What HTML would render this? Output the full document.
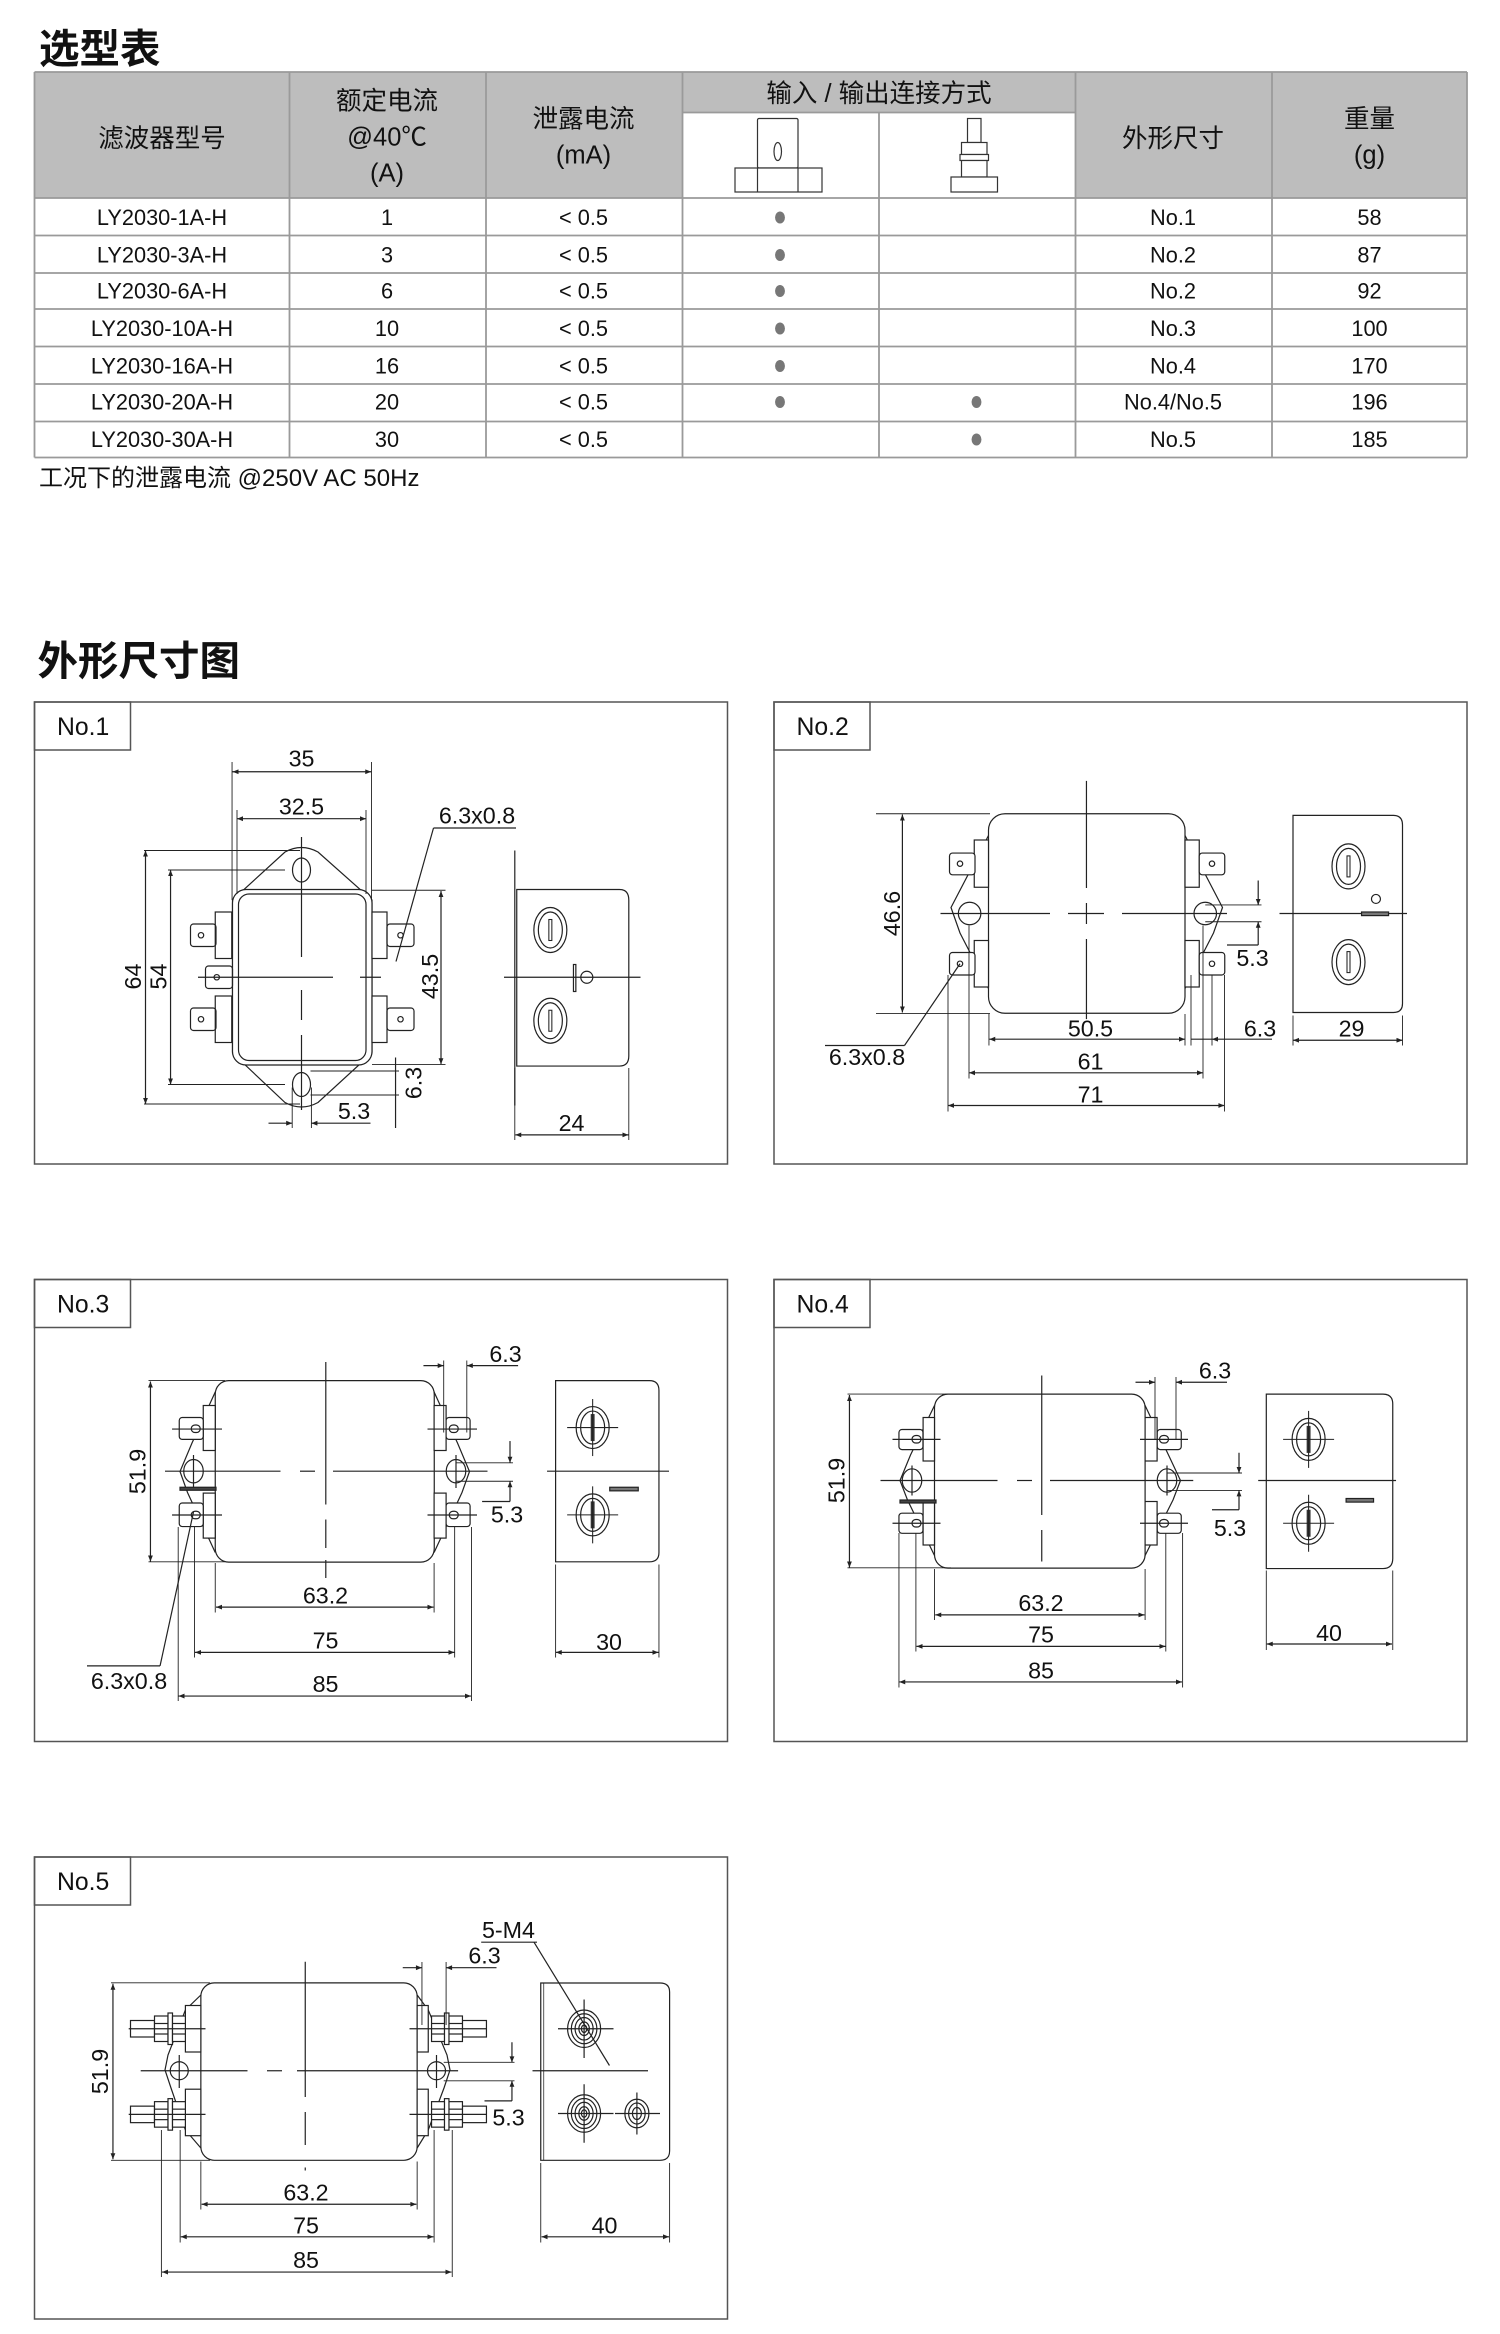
<!DOCTYPE html>
<html><head><meta charset="utf-8"><style>
html,body{margin:0;padding:0;background:#fff}
svg{display:block}
text{font-family:"Liberation Sans","Noto Sans CJK SC",sans-serif;fill:#111}
</style></head><body>
<svg width="1500" height="2334" viewBox="0 0 1000 1556" xmlns="http://www.w3.org/2000/svg">
<defs>
<marker id="a" viewBox="0 0 10 10" refX="10" refY="5" markerWidth="7" markerHeight="4" orient="auto-start-reverse" markerUnits="userSpaceOnUse"><path d="M0,1 L10,5 L0,9 z" fill="#222"/></marker>
<g id="rec1"><ellipse cx="0" cy="0" rx="11" ry="15" fill="none" stroke="#222" stroke-width="0.8"/><ellipse cx="0" cy="0" rx="8" ry="12" fill="none" stroke="#222" stroke-width="0.8"/><rect x="-1" y="-7" width="2" height="14" fill="none" stroke="#222" stroke-width="0.7"/></g>
<g id="rec3"><ellipse cx="0" cy="0" rx="11" ry="14" fill="none" stroke="#222" stroke-width="0.8"/><ellipse cx="0" cy="0" rx="8" ry="11" fill="none" stroke="#222" stroke-width="0.8"/><rect x="-1.3" y="-9" width="2.6" height="18" fill="#333"/><line x1="-17" y1="0" x2="17" y2="0" stroke="#222" stroke-width="0.7"/><line x1="0" y1="-19" x2="0" y2="19" stroke="#222" stroke-width="0.7"/></g>
</defs>

<text x="26" y="42" font-size="27" font-weight="bold">选型表</text>

<rect x="23" y="48" width="955" height="84" fill="#bdbdbd"/>
<rect x="455" y="75" width="262" height="57" fill="#fff"/>
<g stroke="#9a9a9a" stroke-width="1.2">
<line x1="23" y1="48" x2="978" y2="48"/>
<line x1="455" y1="75" x2="717" y2="75"/>
<line x1="23" y1="132" x2="978" y2="132"/><line x1="23" y1="157" x2="978" y2="157"/><line x1="23" y1="182" x2="978" y2="182"/><line x1="23" y1="206" x2="978" y2="206"/><line x1="23" y1="231" x2="978" y2="231"/><line x1="23" y1="256" x2="978" y2="256"/><line x1="23" y1="281" x2="978" y2="281"/><line x1="23" y1="305" x2="978" y2="305"/>
<line x1="23" y1="48" x2="23" y2="305"/><line x1="193" y1="48" x2="193" y2="305"/><line x1="324" y1="48" x2="324" y2="305"/><line x1="455" y1="48" x2="455" y2="305"/><line x1="586" y1="75" x2="586" y2="305"/><line x1="717" y1="48" x2="717" y2="305"/><line x1="848" y1="48" x2="848" y2="305"/><line x1="978" y1="48" x2="978" y2="305"/>
</g>
<g font-size="17" text-anchor="middle">
<text x="108" y="98">滤波器型号</text>
<text x="258" y="73">额定电流</text><text x="258" y="97">@40℃</text><text x="258" y="121">(A)</text>
<text x="389" y="85">泄露电流</text><text x="389" y="109">(mA)</text>
<text x="586" y="68">输入 / 输出连接方式</text>
<text x="782" y="98">外形尺寸</text>
<text x="913" y="85">重量</text><text x="913" y="109">(g)</text>
</g>
<g fill="#fff" stroke="#333" stroke-width="0.8">
<rect x="505" y="79" width="27" height="33" rx="1"/><ellipse cx="518.5" cy="101" rx="2.5" ry="6"/>
<rect x="490" y="112" width="58" height="16"/><line x1="505" y1="112" x2="505" y2="128"/><line x1="532" y1="112" x2="532" y2="128"/>
<rect x="645" y="79" width="9" height="16"/><rect x="641" y="95" width="17" height="8"/><rect x="640" y="103" width="19" height="4"/><rect x="641" y="107" width="17" height="11"/><rect x="634" y="118" width="31" height="10"/>
</g>
<g font-size="14.5" text-anchor="middle">
<text x="108" y="150">LY2030-1A-H</text><text x="258" y="150">1</text><text x="389" y="150">&lt; 0.5</text><text x="782" y="150">No.1</text><text x="913" y="150">58</text>
<text x="108" y="175">LY2030-3A-H</text><text x="258" y="175">3</text><text x="389" y="175">&lt; 0.5</text><text x="782" y="175">No.2</text><text x="913" y="175">87</text>
<text x="108" y="199">LY2030-6A-H</text><text x="258" y="199">6</text><text x="389" y="199">&lt; 0.5</text><text x="782" y="199">No.2</text><text x="913" y="199">92</text>
<text x="108" y="224">LY2030-10A-H</text><text x="258" y="224">10</text><text x="389" y="224">&lt; 0.5</text><text x="782" y="224">No.3</text><text x="913" y="224">100</text>
<text x="108" y="249">LY2030-16A-H</text><text x="258" y="249">16</text><text x="389" y="249">&lt; 0.5</text><text x="782" y="249">No.4</text><text x="913" y="249">170</text>
<text x="108" y="273">LY2030-20A-H</text><text x="258" y="273">20</text><text x="389" y="273">&lt; 0.5</text><text x="782" y="273">No.4/No.5</text><text x="913" y="273">196</text>
<text x="108" y="298">LY2030-30A-H</text><text x="258" y="298">30</text><text x="389" y="298">&lt; 0.5</text><text x="782" y="298">No.5</text><text x="913" y="298">185</text>
</g>
<g fill="#777">
<ellipse cx="520" cy="145" rx="3.3" ry="4"/><ellipse cx="520" cy="170" rx="3.3" ry="4"/><ellipse cx="520" cy="194" rx="3.3" ry="4"/><ellipse cx="520" cy="219" rx="3.3" ry="4"/><ellipse cx="520" cy="244" rx="3.3" ry="4"/><ellipse cx="520" cy="268" rx="3.3" ry="4"/><ellipse cx="651" cy="268" rx="3.3" ry="4"/><ellipse cx="651" cy="293" rx="3.3" ry="4"/>
</g>
<text x="26" y="324" font-size="16">工况下的泄露电流 @250V AC 50Hz</text>

<text x="25" y="450" font-size="27" font-weight="bold">外形尺寸图</text>

<g fill="none" stroke="#555" stroke-width="1">
<rect x="23" y="468" width="462" height="308"/><rect x="23" y="468" width="64" height="32"/>
<rect x="516" y="468" width="462" height="308"/><rect x="516" y="468" width="64" height="32"/>
<rect x="23" y="853" width="462" height="308"/><rect x="23" y="853" width="64" height="32"/>
<rect x="516" y="853" width="462" height="308"/><rect x="516" y="853" width="64" height="32"/>
<rect x="23" y="1238" width="462" height="308"/><rect x="23" y="1238" width="64" height="32"/>
</g>
<g font-size="16.5">
<text x="38" y="490">No.1</text><text x="531" y="490">No.2</text><text x="38" y="875">No.3</text><text x="531" y="875">No.4</text><text x="38" y="1260">No.5</text>
</g>

<!-- No.1 -->
<g stroke="#222" stroke-width="0.8" fill="none">
<path d="M190,568 Q201,562 212,568 L248,600 L248,702 L212,735 Q201,741 190,735 L155,702 L155,600 Z"/>
<rect x="155" y="593" width="93" height="117" rx="9" fill="#fff"/>
<rect x="159" y="596" width="85" height="111" rx="7"/>
<ellipse cx="201" cy="580" rx="6" ry="8"/><ellipse cx="201" cy="723" rx="6" ry="8"/>
<rect x="143.5" y="608" width="11" height="31" fill="#fff"/><rect x="127" y="616" width="17" height="15" rx="2"/><circle cx="134" cy="623.5" r="1.8"/>
<rect x="143.5" y="664" width="11" height="31" fill="#fff"/><rect x="127" y="672" width="17" height="15" rx="2"/><circle cx="134" cy="679.5" r="1.8"/>
<rect x="137" y="644" width="18" height="15" rx="2"/><circle cx="144.5" cy="651.5" r="1.8"/>
<rect x="248" y="608" width="10" height="31" fill="#fff"/><rect x="258" y="616" width="18" height="15" rx="2"/><circle cx="267" cy="623.5" r="1.8"/>
<rect x="248" y="664" width="10" height="31" fill="#fff"/><rect x="258" y="672" width="18" height="15" rx="2"/><circle cx="267" cy="679.5" r="1.8"/>
<line x1="201" y1="558" x2="201" y2="638"/><line x1="201" y1="660" x2="201" y2="680"/><line x1="201" y1="690" x2="201" y2="740"/>
<line x1="132" y1="651.5" x2="222" y2="651.5"/><line x1="240" y1="651.5" x2="254" y2="651.5"/>
<line x1="154.7" y1="508" x2="154.7" y2="600" stroke-width="0.6"/><line x1="247.7" y1="508" x2="247.7" y2="600" stroke-width="0.6"/>
<line x1="155" y1="514.5" x2="247.5" y2="514.5" marker-start="url(#a)" marker-end="url(#a)"/>
<line x1="158" y1="540" x2="158" y2="596" stroke-width="0.6"/><line x1="244" y1="540" x2="244" y2="596" stroke-width="0.6"/>
<line x1="158" y1="545.8" x2="244" y2="545.8" marker-start="url(#a)" marker-end="url(#a)"/>
<line x1="289" y1="552" x2="344" y2="552"/><line x1="289" y1="552" x2="264" y2="641"/>
<line x1="248" y1="593.5" x2="297" y2="593.5" stroke-width="0.6"/><line x1="248" y1="709.6" x2="297" y2="709.6" stroke-width="0.6"/>
<line x1="294" y1="594" x2="294" y2="709.5" marker-start="url(#a)" marker-end="url(#a)"/>
<line x1="96" y1="567" x2="200" y2="567" stroke-width="0.6"/><line x1="96" y1="736" x2="200" y2="736" stroke-width="0.6"/>
<line x1="97" y1="567" x2="97" y2="736" marker-start="url(#a)" marker-end="url(#a)"/>
<line x1="112" y1="580" x2="190" y2="580" stroke-width="0.6"/><line x1="112" y1="723" x2="190" y2="723" stroke-width="0.6"/>
<line x1="113.7" y1="580" x2="113.7" y2="723" marker-start="url(#a)" marker-end="url(#a)"/>
<line x1="207" y1="714" x2="266" y2="714" stroke-width="0.6"/><line x1="207" y1="730" x2="266" y2="730" stroke-width="0.6"/>
<line x1="263.7" y1="705" x2="263.7" y2="752"/>
<line x1="194.8" y1="725" x2="194.8" y2="752" stroke-width="0.6"/><line x1="207.6" y1="725" x2="207.6" y2="752" stroke-width="0.6"/>
<line x1="179" y1="748.8" x2="194.8" y2="748.8" marker-end="url(#a)"/><line x1="247" y1="748.8" x2="207.6" y2="748.8" marker-end="url(#a)"/>
<line x1="343.2" y1="567" x2="343.2" y2="737"/>
<path d="M344.5,593 L413,593 Q419.2,593 419.2,600 L419.2,704 Q419.2,710.7 413,710.7 L344.5,710.7 Z"/>
<line x1="336" y1="651.5" x2="427" y2="651.5"/>
<circle cx="391.2" cy="651.5" r="4"/><rect x="382.3" y="643" width="1.6" height="18"/>
<line x1="343.2" y1="712" x2="343.2" y2="760" stroke-width="0.6"/><line x1="419.2" y1="712" x2="419.2" y2="760" stroke-width="0.6"/>
<line x1="343.5" y1="756.6" x2="419" y2="756.6" marker-start="url(#a)" marker-end="url(#a)"/>
</g>
<use href="#rec1" x="366.9" y="620"/><use href="#rec1" x="366.9" y="680.5"/>
<g font-size="15.5" text-anchor="middle">
<text x="201" y="511">35</text><text x="201" y="543">32.5</text><text x="318" y="549">6.3x0.8</text>
<text x="236" y="746">5.3</text><text x="381" y="754">24</text>
<text transform="translate(292,651) rotate(-90)">43.5</text>
<text transform="translate(94,651) rotate(-90)">64</text>
<text transform="translate(111,651) rotate(-90)">54</text>
<text transform="translate(281,722) rotate(-90)">6.3</text>
</g>

<!-- No.2 -->
<g stroke="#222" stroke-width="0.8" fill="none">
<path d="M659,557 L634,605 L640,622 L659,659"/><path d="M790,557 L815,605 L809,622 L790,659"/>
<circle cx="646.4" cy="609" r="7.5" fill="#fff"/><circle cx="803.5" cy="609" r="7.5" fill="#fff"/>
<rect x="659" y="542.5" width="131" height="133" rx="11" fill="#fff"/>
<rect x="649.5" y="560" width="9.5" height="31.5" fill="#fff"/><rect x="633" y="568.7" width="17" height="14.5" rx="2" fill="#fff"/><circle cx="640" cy="575.8" r="1.8"/>
<rect x="649.5" y="627" width="9.5" height="31" fill="#fff"/><rect x="633" y="635" width="17" height="15" rx="2" fill="#fff"/><circle cx="640" cy="642.5" r="1.8"/>
<rect x="790" y="560" width="9.5" height="31.5" fill="#fff"/><rect x="799.5" y="568.7" width="17" height="14.5" rx="2" fill="#fff"/><circle cx="808" cy="575.8" r="1.8"/>
<rect x="790" y="627" width="9.5" height="31" fill="#fff"/><rect x="799.5" y="635" width="17" height="15" rx="2" fill="#fff"/><circle cx="808" cy="642.5" r="1.8"/>
<line x1="724.3" y1="520.6" x2="724.3" y2="592"/><line x1="724.3" y1="602" x2="724.3" y2="616"/><line x1="724.3" y1="626" x2="724.3" y2="679.4"/>
<line x1="627" y1="609" x2="700" y2="609"/><line x1="712" y1="609" x2="736" y2="609"/><line x1="748" y1="609" x2="818" y2="609"/>
<line x1="584" y1="542.5" x2="660" y2="542.5" stroke-width="0.6"/><line x1="584" y1="675.6" x2="660" y2="675.6" stroke-width="0.6"/>
<line x1="601.6" y1="543" x2="601.6" y2="675" marker-start="url(#a)" marker-end="url(#a)"/>
<line x1="803.5" y1="603.3" x2="841" y2="603.3" stroke-width="0.6"/><line x1="803.5" y1="614.5" x2="841" y2="614.5" stroke-width="0.6"/>
<line x1="838.8" y1="587" x2="838.8" y2="603.3" marker-end="url(#a)"/><line x1="838.8" y1="630" x2="838.8" y2="614.5" marker-end="url(#a)"/>
<line x1="818" y1="630" x2="838.8" y2="630"/>
<line x1="659.3" y1="676" x2="659.3" y2="697" stroke-width="0.6"/><line x1="790" y1="676" x2="790" y2="697" stroke-width="0.6"/><line x1="794" y1="650" x2="794" y2="697" stroke-width="0.6"/><line x1="808" y1="650" x2="808" y2="697" stroke-width="0.6"/>
<line x1="659.5" y1="692.8" x2="790" y2="692.8" marker-start="url(#a)" marker-end="url(#a)"/>
<line x1="794" y1="692.8" x2="808" y2="692.8"/><line x1="848" y1="692.8" x2="808" y2="692.8" marker-end="url(#a)"/>
<line x1="646" y1="617" x2="646" y2="719" stroke-width="0.6"/><line x1="802" y1="617" x2="802" y2="719" stroke-width="0.6"/>
<line x1="646" y1="715.2" x2="802" y2="715.2" marker-start="url(#a)" marker-end="url(#a)"/>
<line x1="632" y1="650" x2="632" y2="741" stroke-width="0.6"/><line x1="816.3" y1="650" x2="816.3" y2="741" stroke-width="0.6"/>
<line x1="632" y1="737" x2="816.3" y2="737" marker-start="url(#a)" marker-end="url(#a)"/>
<line x1="550" y1="697" x2="603" y2="697"/><line x1="603" y1="697" x2="640" y2="642.5"/>
<path d="M862,543.6 L929,543.6 Q935,543.6 935,550 L935,669 Q935,675 929,675 L862,675 Z"/>
<line x1="853" y1="609" x2="938" y2="609"/>
<circle cx="917.3" cy="599.3" r="3"/><rect x="907.7" y="608" width="18" height="2.4" fill="#777"/>
<line x1="862" y1="677" x2="862" y2="697" stroke-width="0.6"/><line x1="935" y1="677" x2="935" y2="697" stroke-width="0.6"/>
<line x1="862" y1="693.5" x2="935" y2="693.5" marker-start="url(#a)" marker-end="url(#a)"/>
</g>
<use href="#rec1" x="899" y="577.6"/><use href="#rec1" x="899" y="641.4"/>
<g font-size="15.5" text-anchor="middle">
<text x="727" y="691">50.5</text><text x="840" y="691">6.3</text><text x="727" y="713">61</text><text x="727" y="735">71</text>
<text x="578" y="710">6.3x0.8</text><text x="835" y="644">5.3</text><text x="901" y="691">29</text>
<text transform="translate(600,609) rotate(-90)">46.6</text>
</g>

<!-- No.3 -->
<g stroke="#222" stroke-width="0.8" fill="none">
<path d="M143.5,928 L128,962 L120,981 L125,995 L143.5,1035"/><path d="M289.4,928 L305,962 L313,981 L308,995 L289.4,1035"/>
<ellipse cx="129" cy="980.8" rx="6.5" ry="7.8" fill="#fff"/><ellipse cx="304" cy="980.8" rx="6.5" ry="7.8" fill="#fff"/>
<rect x="143.5" y="920.4" width="146" height="121" rx="9" fill="#fff"/>
<rect x="135.5" y="937" width="8" height="30" fill="#fff"/><rect x="119.5" y="945" width="16" height="14.6" rx="2" fill="#fff"/><rect x="127.5" y="950" width="6" height="5" rx="2.5"/>
<rect x="135.5" y="995.4" width="8" height="30" fill="#fff"/><rect x="119.5" y="1002" width="16" height="15.7" rx="2" fill="#fff"/><rect x="127.5" y="1007.5" width="6" height="5" rx="2.5"/>
<rect x="289.4" y="937" width="8" height="30" fill="#fff"/><rect x="297.4" y="945" width="16" height="14.6" rx="2" fill="#fff"/><rect x="299.5" y="950" width="6" height="5" rx="2.5"/>
<rect x="289.4" y="995.4" width="8" height="30" fill="#fff"/><rect x="297.4" y="1002" width="16" height="15.7" rx="2" fill="#fff"/><rect x="299.5" y="1007.5" width="6" height="5" rx="2.5"/>
<line x1="114.7" y1="952.7" x2="148" y2="952.7"/><line x1="114.7" y1="1010" x2="148" y2="1010"/><line x1="285" y1="952.7" x2="318" y2="952.7"/><line x1="285" y1="1010" x2="318" y2="1010"/>
<line x1="129" y1="970" x2="129" y2="992"/><line x1="304" y1="970" x2="304" y2="992"/>
<rect x="120" y="991.5" width="24" height="2" fill="#444"/>
<line x1="110" y1="980.8" x2="187" y2="980.8"/><line x1="200" y1="980.8" x2="210" y2="980.8"/><line x1="222" y1="980.8" x2="325" y2="980.8"/>
<line x1="217.2" y1="908" x2="217.2" y2="1003"/><line x1="217.2" y1="1013" x2="217.2" y2="1032"/><line x1="217.2" y1="1040" x2="217.2" y2="1052"/>
<line x1="99" y1="920.4" x2="150" y2="920.4" stroke-width="0.6"/><line x1="99" y1="1041.2" x2="150" y2="1041.2" stroke-width="0.6"/>
<line x1="100.3" y1="921" x2="100.3" y2="1041" marker-start="url(#a)" marker-end="url(#a)"/>
<line x1="295.8" y1="907" x2="295.8" y2="955" stroke-width="0.6"/><line x1="311.2" y1="907" x2="311.2" y2="955" stroke-width="0.6"/>
<line x1="282.3" y1="910.4" x2="295.8" y2="910.4" marker-end="url(#a)"/><line x1="345.4" y1="910.4" x2="311.2" y2="910.4" marker-end="url(#a)"/>
<line x1="304" y1="975.2" x2="342" y2="975.2" stroke-width="0.6"/><line x1="304" y1="987.5" x2="342" y2="987.5" stroke-width="0.6"/>
<line x1="340" y1="960.7" x2="340" y2="975.2" marker-end="url(#a)"/><line x1="340" y1="1001" x2="340" y2="987.5" marker-end="url(#a)"/><line x1="321.4" y1="1001" x2="340" y2="1001"/>
<line x1="143.5" y1="1042" x2="143.5" y2="1075" stroke-width="0.6"/><line x1="289.4" y1="1042" x2="289.4" y2="1075" stroke-width="0.6"/>
<line x1="144" y1="1071.4" x2="289" y2="1071.4" marker-start="url(#a)" marker-end="url(#a)"/>
<line x1="129.7" y1="1018" x2="129.7" y2="1105" stroke-width="0.6"/><line x1="303.1" y1="1018" x2="303.1" y2="1105" stroke-width="0.6"/>
<line x1="130" y1="1101.6" x2="303" y2="1101.6" marker-start="url(#a)" marker-end="url(#a)"/>
<line x1="118.8" y1="1018" x2="118.8" y2="1134" stroke-width="0.6"/><line x1="314.3" y1="1018" x2="314.3" y2="1134" stroke-width="0.6"/>
<line x1="119" y1="1130.7" x2="314" y2="1130.7" marker-start="url(#a)" marker-end="url(#a)"/>
<line x1="58" y1="1110.6" x2="106.7" y2="1110.6"/><line x1="106.7" y1="1110.6" x2="129" y2="1008"/>
<path d="M370.4,920.4 L433,920.4 Q439.3,920.4 439.3,927 L439.3,1035 Q439.3,1041.2 433,1041.2 L370.4,1041.2 Z"/>
<line x1="364.7" y1="980.8" x2="446" y2="980.8"/>
<rect x="406.5" y="991.5" width="19" height="2.4" fill="#777"/>
<line x1="370.4" y1="1043" x2="370.4" y2="1105" stroke-width="0.6"/><line x1="439.3" y1="1043" x2="439.3" y2="1105" stroke-width="0.6"/>
<line x1="370.5" y1="1101.6" x2="439" y2="1101.6" marker-start="url(#a)" marker-end="url(#a)"/>
</g>
<use href="#rec3" x="395.1" y="951.7"/><use href="#rec3" x="395.1" y="1009.9"/>
<g font-size="15.5" text-anchor="middle">
<text x="337" y="908">6.3</text><text x="338" y="1015">5.3</text><text x="217" y="1069">63.2</text><text x="217" y="1099">75</text><text x="217" y="1128">85</text>
<text x="86" y="1126">6.3x0.8</text><text x="406" y="1100">30</text>
<text transform="translate(97,981) rotate(-90)">51.9</text>
</g>

<!-- No.4 -->
<g stroke="#222" stroke-width="0.8" fill="none">
<path d="M623,937 L607,970 L600,987 L605,1000 L623,1037"/><path d="M763.4,937 L779,970 L787,987 L782,1000 L763.4,1037"/>
<ellipse cx="608" cy="987" rx="6.5" ry="7.8" fill="#fff"/><ellipse cx="778" cy="987" rx="6.5" ry="7.8" fill="#fff"/>
<rect x="623" y="929.4" width="140.4" height="116" rx="9" fill="#fff"/>
<rect x="615.4" y="945" width="7.6" height="29" fill="#fff"/><rect x="599.3" y="953" width="16" height="13.4" rx="2" fill="#fff"/><rect x="608" y="957" width="6" height="5" rx="2.5"/>
<rect x="615.4" y="1001" width="7.6" height="29" fill="#fff"/><rect x="599.3" y="1008.8" width="16" height="13.4" rx="2" fill="#fff"/><rect x="608" y="1013" width="6" height="5" rx="2.5"/>
<rect x="763.4" y="945" width="8" height="29" fill="#fff"/><rect x="771.5" y="953" width="16" height="13.4" rx="2" fill="#fff"/><rect x="773" y="957" width="6" height="5" rx="2.5"/>
<rect x="763.4" y="1001" width="8" height="29" fill="#fff"/><rect x="771.5" y="1008.8" width="16" height="13.4" rx="2" fill="#fff"/><rect x="773" y="1013" width="6" height="5" rx="2.5"/>
<line x1="595" y1="959.6" x2="627" y2="959.6"/><line x1="595" y1="1015.5" x2="627" y2="1015.5"/><line x1="760" y1="959.6" x2="792" y2="959.6"/><line x1="760" y1="1015.5" x2="792" y2="1015.5"/>
<line x1="608" y1="977" x2="608" y2="997"/><line x1="778" y1="977" x2="778" y2="997"/>
<rect x="600" y="1000" width="24" height="2" fill="#444"/>
<line x1="587" y1="987" x2="665" y2="987"/><line x1="678" y1="987" x2="688" y2="987"/><line x1="700" y1="987" x2="795.5" y2="987"/>
<line x1="694.5" y1="917" x2="694.5" y2="1010"/><line x1="694.5" y1="1020" x2="694.5" y2="1041"/>
<line x1="565" y1="929.4" x2="634" y2="929.4" stroke-width="0.6"/><line x1="565" y1="1045.2" x2="634" y2="1045.2" stroke-width="0.6"/>
<line x1="566.3" y1="930" x2="566.3" y2="1045" marker-start="url(#a)" marker-end="url(#a)"/>
<line x1="770" y1="918" x2="770" y2="960" stroke-width="0.6"/><line x1="784" y1="918" x2="784" y2="960" stroke-width="0.6"/>
<line x1="757" y1="921.5" x2="770" y2="921.5" marker-end="url(#a)"/><line x1="818" y1="921.5" x2="784" y2="921.5" marker-end="url(#a)"/>
<line x1="778" y1="982" x2="828" y2="982" stroke-width="0.6"/><line x1="778" y1="993.6" x2="828" y2="993.6" stroke-width="0.6"/>
<line x1="826" y1="968.5" x2="826" y2="982" marker-end="url(#a)"/><line x1="826" y1="1006.5" x2="826" y2="993.6" marker-end="url(#a)"/><line x1="808" y1="1006.5" x2="826" y2="1006.5"/>
<line x1="623" y1="1046" x2="623" y2="1080" stroke-width="0.6"/><line x1="763.4" y1="1046" x2="763.4" y2="1080" stroke-width="0.6"/>
<line x1="623.5" y1="1076.6" x2="763" y2="1076.6" marker-start="url(#a)" marker-end="url(#a)"/>
<line x1="610.6" y1="1022" x2="610.6" y2="1101" stroke-width="0.6"/><line x1="777.2" y1="1022" x2="777.2" y2="1101" stroke-width="0.6"/>
<line x1="611" y1="1097.6" x2="777" y2="1097.6" marker-start="url(#a)" marker-end="url(#a)"/>
<line x1="599.3" y1="1022" x2="599.3" y2="1125" stroke-width="0.6"/><line x1="788.4" y1="1022" x2="788.4" y2="1125" stroke-width="0.6"/>
<line x1="599.5" y1="1121.3" x2="788" y2="1121.3" marker-start="url(#a)" marker-end="url(#a)"/>
<path d="M844.2,929.4 L922,929.4 Q928.5,929.4 928.5,936 L928.5,1039 Q928.5,1045.7 922,1045.7 L844.2,1045.7 Z"/>
<line x1="838.8" y1="987" x2="930.7" y2="987"/>
<rect x="897.4" y="999" width="18.3" height="2.4" fill="#777"/>
<line x1="844.2" y1="1047" x2="844.2" y2="1100" stroke-width="0.6"/><line x1="928.5" y1="1047" x2="928.5" y2="1100" stroke-width="0.6"/>
<line x1="844.5" y1="1096" x2="928" y2="1096" marker-start="url(#a)" marker-end="url(#a)"/>
</g>
<use href="#rec3" x="872.4" y="959.6"/><use href="#rec3" x="872.4" y="1015.5"/>
<g font-size="15.5" text-anchor="middle">
<text x="810" y="919">6.3</text><text x="820" y="1024">5.3</text><text x="694" y="1074">63.2</text><text x="694" y="1095">75</text><text x="694" y="1119">85</text><text x="886" y="1094">40</text>
<text transform="translate(563,987) rotate(-90)">51.9</text>
</g>

<!-- No.5 -->
<g stroke="#222" stroke-width="0.8" fill="none">
<path d="M133.9,1330 L123.6,1340 L112,1370 L110,1380 L114,1392 L123.6,1420 L133.9,1432"/><path d="M278.1,1330 L285.5,1340 L298,1370 L300,1380 L296,1392 L285.5,1420 L278.1,1432"/>
<circle cx="119.5" cy="1380.5" r="6" fill="#fff"/><circle cx="291" cy="1380.5" r="6" fill="#fff"/>
<rect x="133.9" y="1321.9" width="144.2" height="118.3" rx="9" fill="#fff"/>
<rect x="123.6" y="1337" width="10.3" height="31" fill="#fff"/><rect x="123.6" y="1392.8" width="10.3" height="31" fill="#fff"/>
<rect x="278.1" y="1337" width="7.4" height="31" fill="#fff"/><rect x="278.1" y="1392.8" width="7.4" height="31" fill="#fff"/>
<g id="studL"><rect x="87" y="1347" width="16" height="11" fill="#fff"/><rect x="103" y="1344" width="9" height="17" fill="#fff"/><line x1="103" y1="1349" x2="112" y2="1349"/><line x1="103" y1="1356" x2="112" y2="1356"/><rect x="112" y="1342" width="3" height="21" fill="#fff"/><rect x="115" y="1344" width="8.6" height="17" fill="#fff"/><line x1="115" y1="1349" x2="123.6" y2="1349"/><line x1="115" y1="1356" x2="123.6" y2="1356"/></g>
<use href="#studL" y="57.1"/>
<use href="#studL" transform="translate(411.3,0) scale(-1,1)"/>
<use href="#studL" transform="translate(411.3,57.1) scale(-1,1)"/>
<line x1="85.8" y1="1352.5" x2="137" y2="1352.5"/><line x1="85.8" y1="1409.6" x2="137" y2="1409.6"/><line x1="273" y1="1352.5" x2="324.6" y2="1352.5"/><line x1="273" y1="1409.6" x2="324.6" y2="1409.6"/>
<line x1="119.5" y1="1370" x2="119.5" y2="1392"/><line x1="291" y1="1370" x2="291" y2="1392"/>
<line x1="93.8" y1="1380.5" x2="165" y2="1380.5"/><line x1="178" y1="1380.5" x2="188" y2="1380.5"/><line x1="198" y1="1380.5" x2="305.4" y2="1380.5"/>
<line x1="203.5" y1="1307.8" x2="203.5" y2="1398"/><line x1="203.5" y1="1408" x2="203.5" y2="1430"/><line x1="203.5" y1="1445" x2="203.5" y2="1447"/>
<line x1="74" y1="1321.9" x2="140" y2="1321.9" stroke-width="0.6"/><line x1="74" y1="1440.2" x2="140" y2="1440.2" stroke-width="0.6"/>
<line x1="75.3" y1="1322.5" x2="75.3" y2="1439.5" marker-start="url(#a)" marker-end="url(#a)"/>
<line x1="281.3" y1="1308" x2="281.3" y2="1350" stroke-width="0.6"/><line x1="297.4" y1="1308" x2="297.4" y2="1350" stroke-width="0.6"/>
<line x1="268.5" y1="1311.8" x2="281.3" y2="1311.8" marker-end="url(#a)"/><line x1="331" y1="1311.8" x2="297.4" y2="1311.8" marker-end="url(#a)"/>
<line x1="320.8" y1="1294.8" x2="358" y2="1294.8"/><line x1="356" y1="1294.8" x2="406.3" y2="1377"/>
<line x1="295.8" y1="1374.9" x2="343" y2="1374.9" stroke-width="0.6"/><line x1="295.8" y1="1387.2" x2="343" y2="1387.2" stroke-width="0.6"/>
<line x1="341.3" y1="1361.5" x2="341.3" y2="1374.9" marker-end="url(#a)"/><line x1="341.3" y1="1400.6" x2="341.3" y2="1387.2" marker-end="url(#a)"/><line x1="323" y1="1400.6" x2="341.3" y2="1400.6"/>
<line x1="133.9" y1="1441" x2="133.9" y2="1473" stroke-width="0.6"/><line x1="278.1" y1="1441" x2="278.1" y2="1473" stroke-width="0.6"/>
<line x1="134.4" y1="1469.5" x2="277.6" y2="1469.5" marker-start="url(#a)" marker-end="url(#a)"/>
<line x1="120.1" y1="1420" x2="120.1" y2="1495" stroke-width="0.6"/><line x1="289.4" y1="1420" x2="289.4" y2="1495" stroke-width="0.6"/>
<line x1="120.5" y1="1491.2" x2="289" y2="1491.2" marker-start="url(#a)" marker-end="url(#a)"/>
<line x1="107.6" y1="1420" x2="107.6" y2="1518" stroke-width="0.6"/><line x1="301.5" y1="1420" x2="301.5" y2="1518" stroke-width="0.6"/>
<line x1="108" y1="1514.7" x2="301" y2="1514.7" marker-start="url(#a)" marker-end="url(#a)"/>
<path d="M360.5,1322 L440,1322 Q446.4,1322 446.4,1328 L446.4,1434 Q446.4,1440.2 440,1440.2 L360.5,1440.2 Z"/>
<line x1="362.5" y1="1322" x2="362.5" y2="1440.2" stroke-width="0.5"/>
<line x1="355" y1="1380.5" x2="432" y2="1380.5"/>
<g id="m4"><ellipse cx="389.4" cy="1352.5" rx="11" ry="12.5"/><ellipse cx="389.4" cy="1352.5" rx="8.5" ry="10"/><ellipse cx="389.4" cy="1352.5" rx="6" ry="7.5"/><ellipse cx="389.4" cy="1352.5" rx="3.5" ry="4.5"/><ellipse cx="389.4" cy="1352.5" rx="1.8" ry="2.5"/><line x1="372" y1="1352.5" x2="409" y2="1352.5"/><line x1="389.4" y1="1333" x2="389.4" y2="1372"/></g>
<use href="#m4" y="56.5"/>
<ellipse cx="424.6" cy="1409" rx="8" ry="9.5"/><ellipse cx="424.6" cy="1409" rx="5.5" ry="7"/><ellipse cx="424.6" cy="1409" rx="3" ry="4"/>
<line x1="410" y1="1409" x2="440" y2="1409"/><line x1="424.6" y1="1395" x2="424.6" y2="1423"/>
<line x1="360.5" y1="1442" x2="360.5" y2="1495" stroke-width="0.6"/><line x1="446.4" y1="1442" x2="446.4" y2="1495" stroke-width="0.6"/>
<line x1="361" y1="1491.2" x2="446" y2="1491.2" marker-start="url(#a)" marker-end="url(#a)"/>
</g>
<g font-size="15.5" text-anchor="middle">
<text x="339" y="1292">5-M4</text><text x="323" y="1309">6.3</text><text x="339" y="1417">5.3</text>
<text x="204" y="1467">63.2</text><text x="204" y="1489">75</text><text x="204" y="1512">85</text><text x="403" y="1489">40</text>
<text transform="translate(72,1381) rotate(-90)">51.9</text>
</g>
</svg>
</body></html>
